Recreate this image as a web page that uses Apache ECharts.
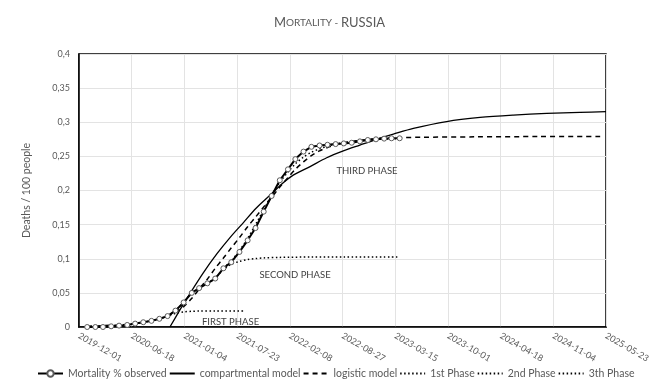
<!DOCTYPE html>
<html>
<head>
<meta charset="utf-8">
<script src="https://cdn.jsdelivr.net/npm/echarts@6/dist/echarts.min.js"></script>
<style>
  html, body { margin: 0; padding: 0; background: #fff; }
  #chart { width: 659px; height: 385px; }
</style>
</head>
<body>
<div id="chart"></div>
<script>
// Axis origin: all x values are days counted from this date
const startDate = '2019-12-01';
const axisMaxDay = 2000;
const axisStepDay = 200;
const yTicks = [0, 0.05, 0.1, 0.15, 0.2, 0.25, 0.3, 0.35, 0.4];

// Observed cumulative mortality (% of population), monthly
const observedDates = [
  '2020-01-01','2020-02-01','2020-03-01','2020-04-01','2020-05-01','2020-06-01',
  '2020-07-01','2020-08-01','2020-09-01','2020-10-01','2020-11-01','2020-12-01',
  '2021-01-01','2021-02-01','2021-03-01','2021-04-01','2021-05-01','2021-06-01',
  '2021-07-01','2021-08-01','2021-09-01','2021-10-01','2021-11-01','2021-12-01',
  '2022-01-01','2022-02-01','2022-03-01','2022-04-01','2022-05-01','2022-06-01',
  '2022-07-01','2022-08-01','2022-09-01','2022-10-01','2022-11-01','2022-12-01',
  '2023-01-01','2023-02-01','2023-03-01','2023-04-01'
];
const observedValues = [
  0, 0, 0, 0.001, 0.002, 0.003,
  0.005, 0.007, 0.009, 0.012, 0.016, 0.024,
  0.036, 0.050, 0.057, 0.064, 0.071, 0.086,
  0.095, 0.110, 0.127, 0.145, 0.169, 0.192,
  0.215, 0.231, 0.246, 0.257, 0.264, 0.266,
  0.267, 0.268, 0.269, 0.270, 0.272, 0.274,
  0.275, 0.276, 0.2765, 0.2765
];

// Compartmental model (day offset, value)
const compartmentalDays = [345, 383, 421, 471, 523, 573, 624, 672, 725, 774, 813, 877, 940, 1003, 1066, 1130, 1193, 1269, 1395, 1522, 1648, 1775, 1901, 2000];
const compartmentalValues = [0, 0.025, 0.049, 0.079, 0.107, 0.131, 0.153, 0.174, 0.193, 0.211, 0.2225, 0.235, 0.248, 0.258, 0.2665, 0.275, 0.2825, 0.291, 0.301, 0.307, 0.3105, 0.313, 0.3145, 0.3155];

// Logistic model (day offset, value)
const logisticDays = [31, 91, 152, 213, 275, 336, 397, 428, 459, 487, 517, 548, 578, 609, 640, 670, 701, 731, 762, 793, 821, 852, 882, 913, 943, 974, 1005, 1066, 1127, 1186, 1300, 1500, 1750, 1980];
const logisticValues = [0.001, 0.002, 0.003, 0.005, 0.009, 0.016, 0.030, 0.042, 0.057, 0.070, 0.086, 0.101, 0.116, 0.131, 0.147, 0.161, 0.176, 0.190, 0.205, 0.219, 0.231, 0.242, 0.251, 0.258, 0.263, 0.267, 0.270, 0.2735, 0.2758, 0.277, 0.278, 0.2786, 0.279, 0.279];

// Phase fits (day offset, value)
const phase1Days = [31, 91, 152, 213, 244, 275, 305, 336, 366, 397, 428, 456, 517, 630];
const phase1Values = [0, 0, 0.002, 0.005, 0.007, 0.009, 0.012, 0.016, 0.020, 0.0222, 0.0230, 0.0233, 0.0234, 0.0234];

const phase2Days = [336, 366, 397, 428, 456, 487, 517, 548, 578, 609, 640, 670, 701, 762, 882, 1005, 1212];
const phase2Values = [0.016, 0.024, 0.036, 0.050, 0.057, 0.064, 0.072, 0.084, 0.092, 0.096, 0.0988, 0.1003, 0.1012, 0.1020, 0.1025, 0.1025, 0.1025];

const phase3Days = [548, 578, 609, 640, 670, 701, 731, 762, 793, 821, 852, 882, 913, 943, 974, 1005, 1066, 1127, 1212];
const phase3Values = [0.086, 0.097, 0.112, 0.130, 0.150, 0.172, 0.193, 0.212, 0.227, 0.239, 0.249, 0.256, 0.261, 0.265, 0.268, 0.270, 0.273, 0.275, 0.276];

// Phase annotations placed in data units
const phaseLabels = [
  { text: 'THIRD PHASE',  day: 1093, value: 0.229 },
  { text: 'SECOND PHASE', day: 820,  value: 0.076 },
  { text: 'FIRST PHASE',  day: 575,  value: 0.007 }
];

const DAY_MS = 86400000;
const startMs = Date.parse(startDate + 'T00:00:00Z');
const toDay = d => Math.round((Date.parse(d + 'T00:00:00Z') - startMs) / DAY_MS);
const dayLabel = v => new Date(startMs + v * DAY_MS).toISOString().slice(0, 10);
const zip = (xs, ys) => xs.map((x, i) => [x, ys[i]]);

const FONT = 'Lato, "Open Sans", sans-serif';
const GREY = '#595959';
const dotted = [1.5, 2.5];
const noMarker = { color: '#000', opacity: 0 };

const chart = echarts.init(document.getElementById('chart'), null, { renderer: 'canvas' });

chart.setOption({
  animation: false,
  textStyle: { fontFamily: FONT },
  title: {
    text: '{big|M}{small|ORTALITY - }{big|RUSSIA}',
    left: 'center',
    top: 11,
    textStyle: {
      fontWeight: 'normal',
      rich: {
        big: { fontSize: 13, color: GREY, fontFamily: FONT, fontWeight: 'normal' },
        small: { fontSize: 10, color: GREY, fontFamily: FONT, fontWeight: 'normal' }
      }
    }
  },
  grid: {
    left: 79, right: 53, top: 54, bottom: 58,
    show: true, borderColor: '#000', borderWidth: 1.5, backgroundColor: 'transparent'
  },
  legend: {
    bottom: 1,
    left: 32,
    itemWidth: 25,
    itemHeight: 8,
    itemGap: 2,
    textStyle: { fontSize: 10.5, color: GREY, fontFamily: FONT },
    data: [
      { name: 'Mortality % observed' },
      { name: 'compartmental model', itemStyle: noMarker },
      { name: 'logistic model', itemStyle: noMarker },
      { name: '1st Phase', itemStyle: noMarker },
      { name: '2nd Phase', itemStyle: noMarker },
      { name: '3th Phase', itemStyle: noMarker }
    ]
  },
  xAxis: {
    type: 'value',
    min: 0,
    max: axisMaxDay,
    interval: axisStepDay,
    axisLine: { show: true, lineStyle: { color: '#000', width: 1.5 } },
    axisTick: { show: false },
    splitLine: { show: true, lineStyle: { color: '#e3e3e3', width: 1 } },
    axisLabel: {
      rotate: -30,
      color: GREY,
      fontSize: 9,
      margin: 8,
      fontFamily: FONT,
      formatter: v => dayLabel(v)
    }
  },
  yAxis: {
    type: 'value',
    min: yTicks[0],
    max: yTicks[yTicks.length - 1],
    interval: 0.05,
    name: 'Deaths / 100 people',
    nameLocation: 'middle',
    nameGap: 47,
    nameTextStyle: { color: GREY, fontSize: 10.5, fontFamily: FONT },
    axisLine: { show: true, lineStyle: { color: '#000', width: 1.5 } },
    axisTick: { show: false },
    splitLine: { show: true, lineStyle: { color: '#e3e3e3', width: 1 } },
    axisLabel: {
      color: GREY,
      fontSize: 9,
      margin: 9,
      fontFamily: FONT,
      formatter: v => String(Math.round(v * 100) / 100).replace('.', ',')
    }
  },
  series: [
    {
      name: 'Mortality % observed',
      type: 'line',
      data: zip(observedDates.map(toDay), observedValues),
      symbol: 'circle',
      symbolSize: 5,
      showAllSymbol: true,
      lineStyle: { color: '#000', width: 2 },
      itemStyle: { color: '#fff', borderColor: '#5a5a5a', borderWidth: 1 },
      z: 5
    },
    {
      name: 'compartmental model',
      type: 'line',
      data: zip(compartmentalDays, compartmentalValues),
      smooth: 0.3,
      symbol: 'none',
      lineStyle: { color: '#000', width: 1.3 },
      itemStyle: noMarker,
      z: 4
    },
    {
      name: 'logistic model',
      type: 'line',
      data: zip(logisticDays, logisticValues),
      smooth: 0.3,
      symbol: 'none',
      lineStyle: { color: '#000', width: 1.5, type: [5, 4] },
      itemStyle: noMarker,
      z: 3
    },
    {
      name: '1st Phase',
      type: 'line',
      data: zip(phase1Days, phase1Values),
      smooth: 0.3,
      symbol: 'none',
      lineStyle: { color: '#000', width: 1.5, type: dotted },
      itemStyle: noMarker,
      markPoint: {
        symbol: 'circle',
        symbolSize: 0,
        silent: true,
        label: {
          show: true, position: 'inside', color: '#404040', fontSize: 9.5, fontFamily: FONT,
          formatter: p => p.name
        },
        data: phaseLabels.map(l => ({ name: l.text, coord: [l.day, l.value] }))
      },
      z: 3
    },
    {
      name: '2nd Phase',
      type: 'line',
      data: zip(phase2Days, phase2Values),
      smooth: 0.3,
      symbol: 'none',
      lineStyle: { color: '#000', width: 1.5, type: dotted },
      itemStyle: noMarker,
      z: 3
    },
    {
      name: '3th Phase',
      type: 'line',
      data: zip(phase3Days, phase3Values),
      smooth: 0.3,
      symbol: 'none',
      lineStyle: { color: '#000', width: 1.5, type: dotted },
      itemStyle: noMarker,
      z: 3
    }
  ]
});
</script>
</body>
</html>
